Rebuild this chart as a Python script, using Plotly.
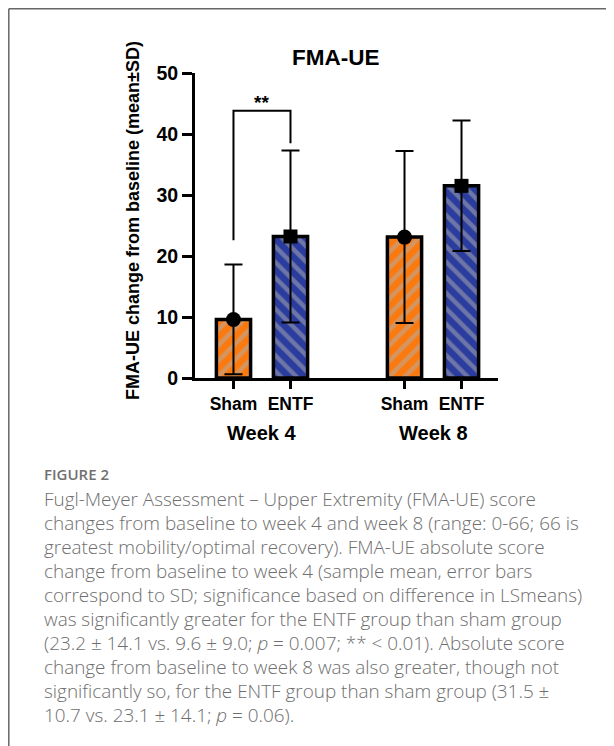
import plotly.graph_objects as go

# ---------------- data ----------------
weeks = ["Week 4", "Week 8"]
groups = ["Sham", "ENTF"]
sham_mean = [9.6, 23.1]
sham_sd = [9.0, 14.1]
entf_mean = [23.2, 31.5]
entf_sd = [14.1, 10.7]
y_ticks = [0, 10, 20, 30, 40, 50]
sig_label = "**"
sig_top = 43.8          # bracket height (value units)
sig_left_end = 22.6     # left leg end
sig_right_end = 38.5    # right leg end

title_text = "FMA-UE"
y_title = "FMA-UE change from baseline (mean±SD)"
fig_label = "FIGURE 2"
caption_lines = [
    "Fugl-Meyer Assessment – Upper Extremity (FMA-UE) score",
    "changes from baseline to week 4 and week 8 (range: 0-66; 66 is",
    "greatest mobility/optimal recovery). FMA-UE absolute score",
    "change from baseline to week 4 (sample mean, error bars",
    "correspond to SD; significance based on difference in LSmeans)",
    "was significantly greater for the ENTF group than sham group",
    "(23.2 ± 14.1 vs. 9.6 ± 9.0; <i>p</i> = 0.007; ** &lt; 0.01). Absolute score",
    "change from baseline to week 8 was also greater, though not",
    "significantly so, for the ENTF group than sham group (31.5 ±",
    "10.7 vs. 23.1 ± 14.1; <i>p</i> = 0.06).",
]

# ---------------- layout geometry ----------------
OFF = 8  # browser default body margin
W, H = 614 - OFF, 746 - OFF
L, T = 195 - OFF, 73 - OFF
R = W - (498 - OFF)
B = H - (378 - OFF)
PW, PH = W - L - R, H - T - B
bottom_px = 378 - OFF


def px_x(px):
    return (px - OFF - L) / PW


def px_y(py):
    return (bottom_px - (py - OFF)) / PH


GAP = 3  # position spacing between weeks
sham_x = [i * GAP + 0 for i in range(len(weeks))]
entf_x = [i * GAP + 1 for i in range(len(weeks))]

ORANGE = "#FA7A10"
BLUE = "#2A3C9E"
STRIPE = "#B0B0B0"
FONT = "Liberation Sans, Arial, sans-serif"
CAP_FONT = "Open Sans, Lato, sans-serif"

fig = go.Figure()

fig.add_trace(go.Bar(
    x=sham_x, y=sham_mean, width=0.6, name=groups[0],
    marker=dict(color=ORANGE, line=dict(color="black", width=3.5),
                pattern=dict(shape="/", fgcolor=STRIPE, bgcolor=ORANGE,
                             size=11, solidity=0.4)),
))
fig.add_trace(go.Bar(
    x=entf_x, y=entf_mean, width=0.6, name=groups[1],
    marker=dict(color=BLUE, line=dict(color="black", width=3.5),
                pattern=dict(shape="\\", fgcolor=STRIPE, bgcolor=BLUE,
                             size=11, solidity=0.4)),
))

# error bars + mean markers
fig.add_trace(go.Scatter(
    x=sham_x, y=sham_mean, mode="markers",
    marker=dict(symbol="circle", size=15, color="black"),
    error_y=dict(type="data", array=sham_sd, visible=True,
                 color="black", thickness=2, width=9),
))
fig.add_trace(go.Scatter(
    x=entf_x, y=entf_mean, mode="markers",
    marker=dict(symbol="square", size=14, color="black"),
    error_y=dict(type="data", array=entf_sd, visible=True,
                 color="black", thickness=2, width=9),
))

# significance bracket (week 4)
fig.add_trace(go.Scatter(
    x=[sham_x[0], sham_x[0], entf_x[0], entf_x[0]],
    y=[sig_left_end, sig_top, sig_top, sig_right_end],
    mode="lines", line=dict(color="black", width=2),
))
fig.add_annotation(x=(sham_x[0] + entf_x[0]) / 2, y=sig_top, text=sig_label,
                   showarrow=False, yanchor="bottom", yshift=-4,
                   font=dict(family=FONT, size=19, color="black", weight="bold"))

# week labels
for i, wk in enumerate(weeks):
    fig.add_annotation(x=(sham_x[i] + entf_x[i]) / 2, xref="x",
                       y=px_y(433), yref="paper", text=wk, showarrow=False,
                       yanchor="middle",
                       font=dict(family=FONT, size=20, color="black", weight="bold"))

# title
fig.add_annotation(x=px_x(335), y=px_y(57), xref="paper", yref="paper",
                   text=title_text, showarrow=False, yanchor="middle",
                   font=dict(family=FONT, size=22.5, color="black", weight="bold"))

# y-axis title
fig.add_annotation(x=px_x(133), y=px_y(221), xref="paper", yref="paper",
                   text=y_title, textangle=-90, showarrow=False,
                   xanchor="center", yanchor="middle",
                   font=dict(family=FONT, size=18, color="black", weight="bold"))

# caption
fig.add_annotation(x=px_x(42), y=px_y(474), xref="paper", yref="paper",
                   text=fig_label, showarrow=False, xanchor="left", yanchor="middle",
                   font=dict(family=CAP_FONT, size=15, color="#707070", weight=600))
for k, line in enumerate(caption_lines):
    fig.add_annotation(x=px_x(42), y=px_y(499 + 24 * k), xref="paper", yref="paper",
                       text=line, showarrow=False, xanchor="left", yanchor="middle",
                       font=dict(family=CAP_FONT, size=18.9, color="#6e6e6e", weight=300))

# frame border (top and left), drawn at the page's drawable edge
edge = OFF + 0.8
fig.add_shape(type="line", xref="paper", yref="paper",
              x0=px_x(edge), x1=px_x(640), y0=px_y(edge), y1=px_y(edge),
              line=dict(color="#666666", width=1.5))
fig.add_shape(type="line", xref="paper", yref="paper",
              x0=px_x(edge), x1=px_x(edge), y0=px_y(edge), y1=px_y(780),
              line=dict(color="#666666", width=1.5))

fig.update_layout(
    width=W, height=H,
    margin=dict(l=L, r=R, t=T, b=B, pad=0),
    paper_bgcolor="white", plot_bgcolor="white",
    showlegend=False, barmode="overlay",
    xaxis=dict(range=[-0.675, 4.64], tickvals=sham_x + entf_x,
               ticktext=[groups[0]] * len(weeks) + [groups[1]] * len(weeks),
               showline=True, linecolor="black", linewidth=3,
               ticks="outside", ticklen=8, tickwidth=2.5, tickcolor="black",
               showgrid=False, zeroline=False,
               tickfont=dict(family=FONT, size=17.5, color="black", weight="bold")),
    yaxis=dict(range=[0, 50], tickvals=y_ticks,
               showline=True, linecolor="black", linewidth=3,
               ticks="outside", ticklen=10, tickwidth=2.5, tickcolor="black",
               showgrid=False, zeroline=False,
               tickfont=dict(family=FONT, size=19.5, color="black", weight="bold")),
)

fig.write_html("out.html")
